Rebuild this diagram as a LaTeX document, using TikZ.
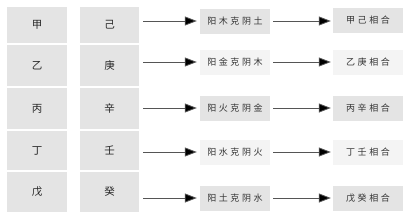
\documentclass[tikz,border=0pt]{standalone}
\usepackage{fontspec}
\setmainfont{Noto Sans CJK SC}
\usetikzlibrary{arrows.meta}
\definecolor{boxgray}{HTML}{E4E4E4}
\definecolor{boxlight}{HTML}{F4F4F4}
\definecolor{lineg}{HTML}{555555}
\tikzset{
  stem/.style={fill=boxgray, draw=none, inner sep=0pt, font=\fontsize{10.5}{10.5}\selectfont, text=black!85},
  midbox/.style={draw=none, inner sep=0pt, minimum width=70pt, minimum height=25pt, font=\fontsize{9}{10}\selectfont\addfontfeature{LetterSpace=28}, text=black!80},
  gbox/.style={midbox, fill=boxgray},
  lbox/.style={midbox, fill=boxlight},
  arr/.style={draw=lineg, line width=0.8pt, -{Triangle[length=12pt,width=9pt,fill=black]}}
}
\begin{document}
\begin{tikzpicture}[x=1pt,y=-1pt]
\useasboundingbox (0,0) rectangle (411,220);
\fill[white] (0,0) rectangle (411,220);
% left columns
\node[stem, minimum width=60pt, minimum height=36pt] (a1) at (37,25) {甲};
\node[stem, minimum width=60pt, minimum height=41pt] (a2) at (37,65.5) {乙};
\node[stem, minimum width=60pt, minimum height=41pt] (a3) at (37,108.5) {丙};
\node[stem, minimum width=60pt, minimum height=39pt] (a4) at (37,150.5) {丁};
\node[stem, minimum width=60pt, minimum height=40pt] (a5) at (37,192) {戊};
\node[stem, minimum width=59pt, minimum height=36pt] (b1) at (109.5,25) {己};
\node[stem, minimum width=59pt, minimum height=41pt] (b2) at (109.5,65.5) {庚};
\node[stem, minimum width=59pt, minimum height=41pt] (b3) at (109.5,108.5) {辛};
\node[stem, minimum width=59pt, minimum height=39pt] (b4) at (109.5,150.5) {壬};
\node[stem, minimum width=59pt, minimum height=40pt] (b5) at (109.5,192) {癸};
% middle boxes
\node[gbox] (m1) at (235,21) {阳木克阴土};
\node[lbox] (m2) at (235,62) {阳金克阴木};
\node[gbox] (m3) at (235,108) {阳火克阴金};
\node[lbox] (m4) at (235,152) {阳水克阴火};
\node[gbox] (m5) at (235,198) {阳土克阴水};
% right boxes
\node[gbox] (r1) at (368,20) {甲己相合};
\node[lbox] (r2) at (368,62) {乙庚相合};
\node[gbox] (r3) at (368,108) {丙辛相合};
\node[lbox] (r4) at (368,152) {丁壬相合};
\node[gbox] (r5) at (368,198) {戊癸相合};
% arrows
\foreach \i in {1,...,5}{
  \draw[arr] ([xshift=4pt]b\i.east |- m\i.west) -- ([xshift=-3pt]m\i.west);
  \draw[arr] ([xshift=3pt]m\i.east) -- ([xshift=-2pt]r\i.west |- m\i.east);
}
\end{tikzpicture}
\end{document}
